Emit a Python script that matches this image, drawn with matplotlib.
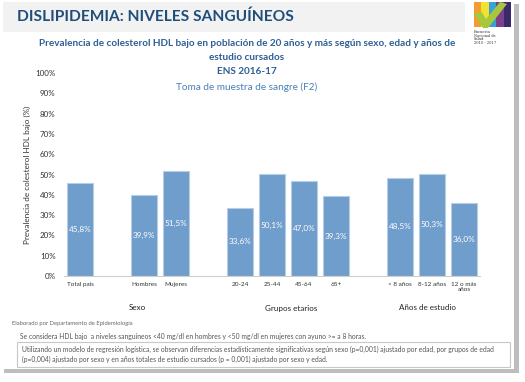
import matplotlib
matplotlib.use('Agg')
import matplotlib.pyplot as plt
from matplotlib.patches import Rectangle, Polygon

plt.rcParams['font.family'] = ['Lato', 'DejaVu Sans']

categories = ['Total país', '', 'Hombres', 'Mujeres', '', '20-24', '25-44', '45-64', '65+', '',
              '< 8 años', '8-12 años', '12 o más\naños']
values = [45.8, None, 39.9, 51.5, None, 33.6, 50.1, 47.0, 39.3, None, 48.5, 50.3, 36.0]
groups = ['Sexo', 'Grupos etarios', 'Años de estudio']
group_pos = [1.8, 6.6, 10.85]
yticks = list(range(0, 101, 10))

W, H = 525, 382
fig = plt.figure(figsize=(W / 100, H / 100), dpi=100)


def fx(x):
    return x / W


def fy(y):
    return 1 - y / H


def rect(x0, y0, x1, y1, z=-5, **kw):
    fig.patches.append(Rectangle((fx(x0), fy(y1)), fx(x1 - x0), (y1 - y0) / H,
                                 transform=fig.transFigure, zorder=z, **kw))


# slide shadow + background
rect(4, 4, 519, 373, facecolor='#bdbdbd', edgecolor='none', z=-10)
rect(0, 0, 514, 369, facecolor='white', edgecolor='none', z=-9)
# title band
rect(3, 2, 465, 32, facecolor='#f2f2f2', edgecolor='none', z=-8)
fig.text(fx(17), fy(17), 'DISLIPIDEMIA: NIVELES SANGUÍNEOS', fontsize=11.2, fontweight='bold',
         color='#1f4e79', va='center', ha='left')

# logo
logo_cols = ['#f39c34', '#f2e22e', '#3aa0dc', '#7b3f8c', '#3b2a6b']
for i, c in enumerate(logo_cols):
    rect(474 + i * 7.4, 2, 474 + (i + 1) * 7.4, 27, facecolor=c, edgecolor='none', z=1)
fig.patches.append(Polygon([(fx(474), fy(14)), (fx(481), fy(11)), (fx(486), fy(19)),
                            (fx(500), fy(2)), (fx(507), fy(4)), (fx(488), fy(28)), (fx(483), fy(28))],
                           closed=True, transform=fig.transFigure, facecolor='#a6c83b',
                           edgecolor='none', zorder=2))
fig.text(fx(474), fy(30), 'Encuesta\nNacional de\nSalud\n2016 - 2017', fontsize=2.6,
         color='#333333', va='top', ha='left', linespacing=0.9, family=['DejaVu Serif'])

# chart titles
tc = '#2e5f95'
fig.text(fx(247), fy(43), 'Prevalencia de colesterol HDL bajo en población de 20 años y más según sexo, edad y años de',
         fontsize=7.2, fontweight='bold', color=tc, ha='center', va='center')
fig.text(fx(247), fy(57), 'estudio cursados', fontsize=7.2, fontweight='bold', color=tc,
         ha='center', va='center')
fig.text(fx(247), fy(72), 'ENS 2016-17', fontsize=7.2, fontweight='bold', color=tc,
         ha='center', va='center')
fig.text(fx(247), fy(87), 'Toma de muestra de sangre (F2)', fontsize=7.2, color='#4a7fb8',
         ha='center', va='center')

# main axes
ax = fig.add_axes([fx(64), fy(276), fx(480 - 64), (276 - 73) / H])
ax.patch.set_alpha(0)
xs = [i for i, v in enumerate(values) if v is not None]
vs = [v for v in values if v is not None]
ax.bar(xs, vs, width=0.8, color='#6f9dcc', edgecolor='#b6cde6', linewidth=0.8, zorder=2)
for x, v in zip(xs, vs):
    ax.text(x, v / 2, f'{v:.1f}%'.replace('.', ','), color='white', fontsize=5.9,
            ha='center', va='center', zorder=3)
ax.set_xlim(-0.5, 12.5)
ax.set_ylim(0, 100)
ax.set_yticks(yticks)
ax.set_yticklabels([f'{t}%' for t in yticks], fontsize=5.8, color='#333333')
ax.set_xticks(range(len(categories)))
ax.set_xticklabels(categories, fontsize=4.6, color='#333333', linespacing=1.1)
ax.tick_params(axis='both', length=0, pad=4)
ax.tick_params(axis='y', pad=6)
for s in ['top', 'right', 'left']:
    ax.spines[s].set_visible(False)
ax.spines['bottom'].set_color('#d0d0d0')
ax.spines['bottom'].set_linewidth(0.8)
ax.set_ylabel('Prevalencia de colesterol HDL bajo (%)', fontsize=5.9, color='#333333')
ax.yaxis.set_label_coords(-0.08, 0.5)
for g, p in zip(groups, group_pos):
    fig.text(fx(64 + (p + 0.5) * 32), fy(308), g, fontsize=5.8, color='#222222',
             ha='center', va='center')

# footer
fig.text(fx(12), fy(323), 'Elaborado por Departamento de Epidemiología', fontsize=4.2,
         color='#666666', ha='left', va='center')
fig.text(fx(20), fy(336), 'Se considera HDL bajo  a niveles sanguíneos <40 mg/dl en hombres y <50 mg/dl en mujeres con ayuno >= a 8 horas.',
         fontsize=4.85, color='#555555', ha='left', va='center')
rect(17, 342, 510, 367, facecolor='white', edgecolor='#c8c8c8', linewidth=0.8, z=-4)
fig.text(fx(22), fy(349), 'Utilizando un modelo de regresión logística, se observan diferencias estadísticamente significativas según sexo (p=0,001) ajustado por edad, por grupos de edad',
         fontsize=4.9, color='#555555', ha='left', va='center')
fig.text(fx(22), fy(359), '(p=0,004) ajustado por sexo y en años totales de estudio cursados (p = 0,001) ajustado por sexo y edad.',
         fontsize=4.9, color='#555555', ha='left', va='center')

fig.savefig('out.png', dpi=100)
